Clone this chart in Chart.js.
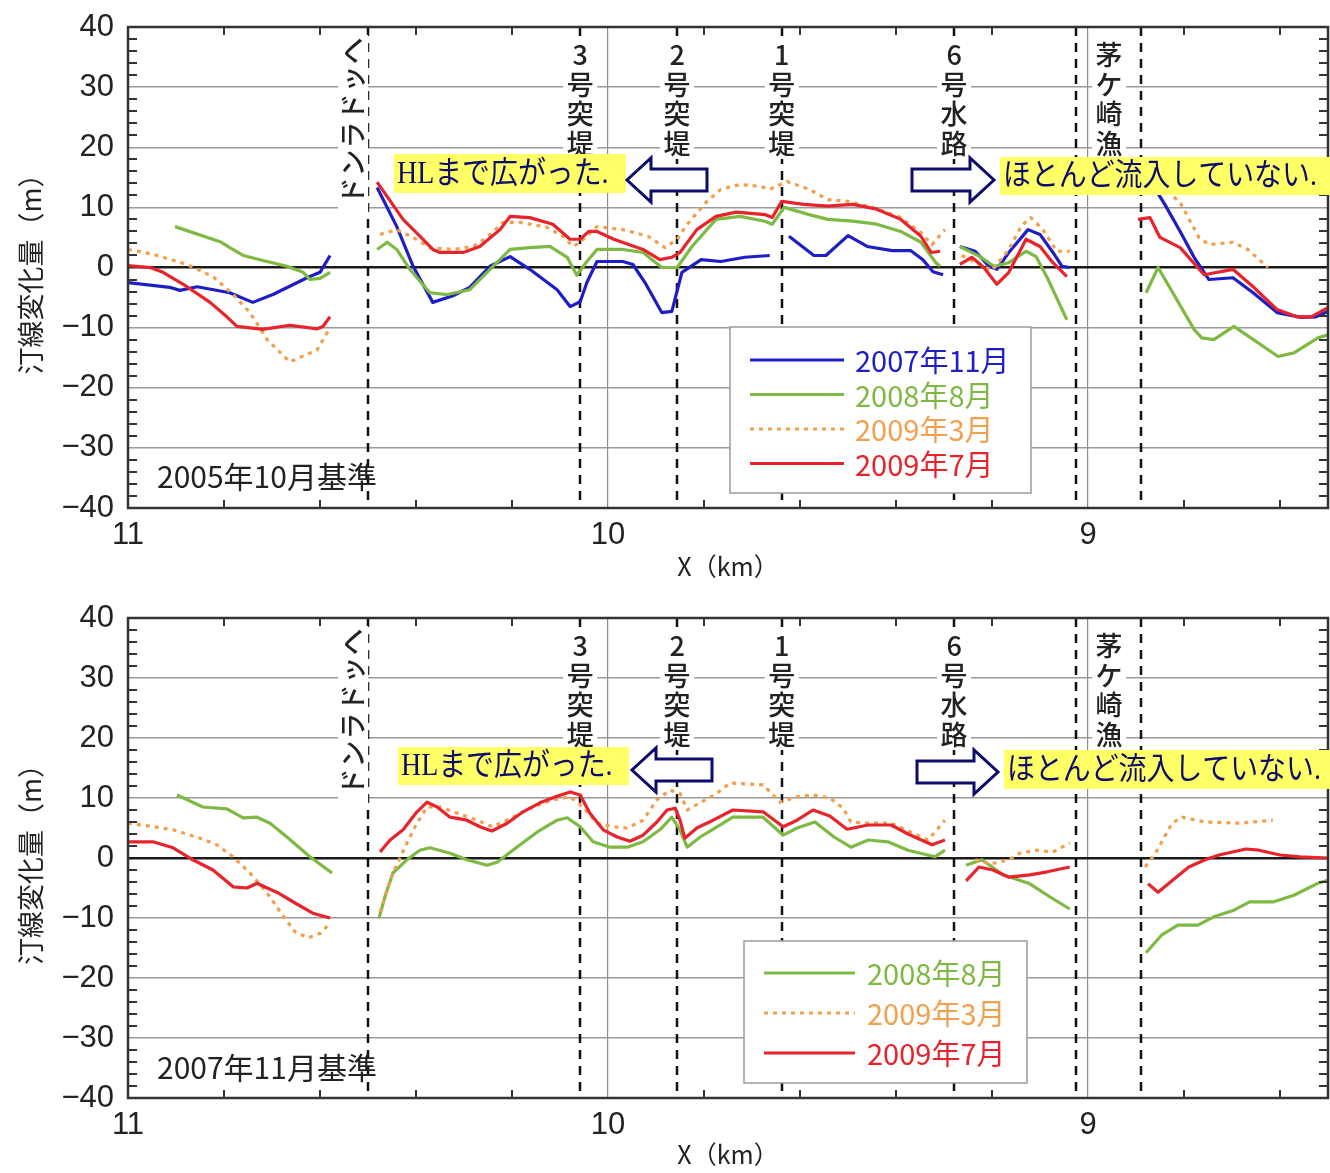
<!DOCTYPE html>
<html lang="ja">
<head>
<meta charset="utf-8">
<title>汀線変化量</title>
<script src="https://cdn.jsdelivr.net/npm/chart.js@4.4.1/dist/chart.umd.min.js"></script>
<style>
  html, body { margin: 0; padding: 0; background: #fff; }
  .panel { position: absolute; left: 0; width: 1330px; }
  #panel-top { top: 0; height: 585px; }
  #panel-bottom { top: 585px; height: 588px; }
</style>
</head>
<body>
<div class="panel" id="panel-top"><canvas id="chart-top"></canvas></div>
<div class="panel" id="panel-bottom"><canvas id="chart-bottom"></canvas></div>
<script>
/* Shoreline change along the coast, X in km (reversed), two base dates */

// ---- axes ----
const xRange = [8.5, 11];
const xLabelKm = [11, 10, 9];
const xMinorKm = [10.8, 10.6, 10.4, 10.2, 9.8, 9.6, 9.4, 9.2, 8.8, 8.6];
const yRange = [-40, 40];
const yStep = 10;
const yMinorStep = 2;

// ---- structures along the coast ----
const structureLineKm = [10.50, 10.058, 9.856, 9.638, 9.279, 9.025, 8.890];
const placeNames = ['ヘッドランド', '3号突堤', '2号突堤', '1号突堤', '6号水路', '茅ケ崎漁港'];
const placeKm = [10.531, 10.058, 9.856, 9.638, 9.279, 8.956];

const seriesLabels = ['2007年11月', '2008年8月', '2009年3月', '2009年7月'];

// ---- 2005年10月基準 : [km, m], null value = break in the line ----
const top2007Nov = [
  [11.000, -2.5], [10.913, -3.3], [10.892, -3.8], [10.856, -3.2], [10.788, -4.2], [10.740, -5.8],
  [10.698, -4.5], [10.627, -1.7], [10.600, -0.8], [10.579, 2.0],
  [10.53, null],
  [10.481, 13.3], [10.440, 6.8], [10.406, 0.2], [10.365, -5.8], [10.323, -4.7], [10.288, -3.3],
  [10.246, 0.2], [10.204, 1.8], [10.163, -0.3], [10.106, -3.7], [10.079, -6.5], [10.058, -5.7],
  [10.044, -2.5], [10.023, 1.0], [9.969, 1.0], [9.948, 0.5], [9.923, -2.5], [9.888, -7.5],
  [9.867, -7.3], [9.846, -0.8], [9.806, 1.3], [9.765, 1.0], [9.715, 1.7], [9.663, 2.0],
  [9.645, null],
  [9.623, 5.2], [9.571, 2.0], [9.546, 2.0], [9.500, 5.3], [9.460, 3.5], [9.408, 2.8], [9.369, 2.8],
  [9.344, 1.3], [9.323, -0.7], [9.302, -1.2],
  [9.28, null],
  [9.267, 3.5], [9.235, 2.7], [9.206, 0.2], [9.190, -0.3], [9.165, 2.5], [9.125, 6.3], [9.100, 5.5],
  [9.073, 2.5], [9.054, 0.2], [9.038, 0.0],
  [8.95, null],
  [8.875, 15.0], [8.840, 10.5], [8.808, 6.0], [8.779, 1.7], [8.748, -2.0], [8.698, -1.7],
  [8.656, -4.2], [8.606, -7.5], [8.556, -8.3], [8.525, -8.2], [8.500, -7.3]
];
const top2008Aug = [
  [10.902, 6.8], [10.808, 4.3], [10.788, 3.3], [10.760, 2.0], [10.725, 1.3], [10.669, 0.2],
  [10.635, -0.8], [10.621, -2.0], [10.600, -1.8], [10.579, -0.8],
  [10.53, null],
  [10.481, 3.0], [10.460, 4.2], [10.440, 3.0], [10.413, -0.3], [10.371, -4.2], [10.335, -4.5],
  [10.288, -3.7], [10.252, -0.8], [10.204, 3.0], [10.163, 3.3], [10.121, 3.5], [10.085, 1.7],
  [10.065, -1.3], [10.044, 1.0], [10.023, 3.0], [9.969, 3.0], [9.927, 2.5], [9.888, 0.0],
  [9.856, 0.0], [9.825, 3.5], [9.775, 8.0], [9.725, 8.5], [9.673, 7.7], [9.658, 7.2], [9.633, 10.0],
  [9.581, 8.8], [9.542, 8.0], [9.490, 7.7], [9.440, 7.2], [9.390, 6.0], [9.348, 4.2], [9.317, 0.8],
  [9.308, 0.2],
  [9.28, null],
  [9.267, 3.5], [9.225, 1.8], [9.196, 0.2], [9.165, 0.8], [9.129, 2.7], [9.108, 1.8], [9.083, -2.0],
  [9.044, -8.7],
  [8.95, null],
  [8.879, -4.2], [8.854, 0.0], [8.779, -10.3], [8.763, -11.7], [8.738, -12.0], [8.696, -9.8],
  [8.604, -14.8], [8.571, -14.2], [8.521, -11.7], [8.500, -11.2]
];
const top2009Mar = [
  [11.000, 3.0], [10.948, 2.2], [10.877, 0.5], [10.823, -1.5], [10.781, -4.5], [10.746, -7.5],
  [10.710, -12.0], [10.663, -15.7], [10.606, -13.7], [10.579, -10.0],
  [10.53, null],
  [10.475, 5.5], [10.440, 6.3], [10.406, 5.0], [10.371, 3.3], [10.323, 3.0], [10.281, 3.5],
  [10.252, 5.0], [10.219, 7.5], [10.183, 7.5], [10.127, 6.7], [10.094, 5.2], [10.073, 3.5],
  [10.058, 4.2], [10.023, 6.8], [9.969, 6.3], [9.917, 5.2], [9.881, 3.3], [9.856, 4.7], [9.835, 7.2],
  [9.796, 10.8], [9.765, 13.0], [9.725, 13.8], [9.683, 13.5], [9.663, 13.0], [9.627, 14.3],
  [9.581, 13.0], [9.542, 11.3], [9.500, 11.0], [9.450, 10.0], [9.390, 8.3], [9.348, 5.8],
  [9.325, 3.8], [9.298, 6.3],
  [9.28, null],
  [9.263, 2.0], [9.225, 0.5], [9.200, -0.5], [9.165, 3.0], [9.138, 7.0], [9.119, 8.3], [9.094, 6.3],
  [9.065, 2.7], [9.038, 2.7],
  [8.95, null],
  [8.871, 13.5], [8.840, 13.0], [8.808, 10.8], [8.769, 5.0], [8.748, 3.8], [8.698, 4.2],
  [8.667, 3.0], [8.625, 0.0]
];
const top2009Jul = [
  [11.000, 0.3], [10.954, 0.0], [10.927, -0.8], [10.877, -3.2], [10.829, -5.8], [10.794, -8.2],
  [10.773, -9.8], [10.719, -10.3], [10.663, -9.6], [10.606, -10.2], [10.594, -9.8], [10.579, -8.2],
  [10.53, null],
  [10.481, 14.2], [10.460, 11.8], [10.427, 8.0], [10.392, 5.2], [10.365, 3.0], [10.350, 2.5],
  [10.302, 2.5], [10.267, 3.5], [10.225, 6.3], [10.204, 8.5], [10.163, 8.3], [10.115, 7.2],
  [10.079, 4.7], [10.058, 4.7], [10.040, 6.0], [10.023, 6.0], [9.988, 4.7], [9.927, 3.0],
  [9.892, 1.3], [9.867, 1.7], [9.850, 2.5], [9.815, 6.3], [9.775, 8.5], [9.733, 9.2], [9.673, 8.8],
  [9.658, 8.3], [9.638, 11.0], [9.592, 10.5], [9.542, 10.2], [9.490, 10.5], [9.440, 9.7],
  [9.390, 8.0], [9.348, 5.2], [9.327, 2.5], [9.308, 2.7],
  [9.28, null],
  [9.267, 0.5], [9.242, 1.7], [9.217, 0.0], [9.190, -2.8], [9.165, -0.8], [9.129, 4.7], [9.100, 3.5],
  [9.073, 0.8], [9.044, -1.5],
  [8.95, null],
  [8.896, 8.0], [8.871, 8.3], [8.850, 5.0], [8.808, 3.3], [8.758, -1.2], [8.698, -0.3],
  [8.656, -3.2], [8.606, -7.0], [8.565, -8.2], [8.535, -8.2], [8.500, -6.7]
];

// ---- 2007年11月基準 ----
const bot2008Aug = [
  [10.898, 10.5], [10.844, 8.5], [10.794, 8.2], [10.760, 6.7], [10.731, 6.8], [10.704, 5.8],
  [10.669, 3.5], [10.621, 0.2], [10.575, -2.5],
  [10.53, null],
  [10.477, -10.0], [10.463, -6.0], [10.448, -2.5], [10.419, -0.3], [10.392, 1.3], [10.371, 1.7],
  [10.329, 0.8], [10.294, -0.3], [10.252, -1.2], [10.231, -0.7], [10.190, 1.8], [10.148, 4.3],
  [10.106, 6.3], [10.085, 6.7], [10.058, 5.2], [10.031, 2.7], [9.996, 1.8], [9.960, 1.8],
  [9.927, 2.7], [9.892, 4.7], [9.867, 6.8], [9.850, 4.7], [9.835, 1.8], [9.808, 3.5], [9.773, 5.2],
  [9.740, 6.8], [9.677, 6.8], [9.635, 3.8], [9.606, 5.0], [9.569, 6.0], [9.529, 3.5], [9.494, 1.8],
  [9.458, 3.0], [9.417, 2.7], [9.375, 1.3], [9.319, 0.2], [9.298, 1.3],
  [9.28, null],
  [9.254, -1.2], [9.221, -0.3], [9.177, -2.8], [9.121, -4.3], [9.079, -6.5], [9.038, -8.5],
  [8.95, null],
  [8.879, -15.8], [8.846, -12.8], [8.813, -11.2], [8.771, -11.2], [8.738, -9.8], [8.696, -8.7],
  [8.663, -7.3], [8.613, -7.3], [8.571, -6.2], [8.521, -4.2], [8.500, -3.7]
];
const bot2009Mar = [
  [11.000, 5.8], [10.954, 5.3], [10.906, 4.7], [10.850, 3.3], [10.815, 2.2], [10.781, 0.2],
  [10.746, -2.5], [10.719, -5.0], [10.704, -6.5], [10.681, -9.2], [10.652, -12.3], [10.625, -13.3],
  [10.598, -12.5], [10.579, -10.8],
  [10.53, null],
  [10.475, -9.0], [10.448, -2.5], [10.419, 2.5], [10.398, 5.8], [10.377, 8.5], [10.350, 8.5],
  [10.315, 7.5], [10.273, 6.3], [10.240, 5.2], [10.198, 6.8], [10.156, 8.5], [10.115, 9.7],
  [10.079, 10.2], [10.052, 8.5], [10.023, 5.8], [9.990, 5.2], [9.960, 5.0], [9.927, 6.3],
  [9.898, 9.7], [9.871, 11.3], [9.850, 10.8], [9.835, 8.0], [9.808, 9.2], [9.773, 10.8],
  [9.746, 12.5], [9.677, 12.2], [9.642, 9.3], [9.606, 10.2], [9.573, 10.5], [9.538, 10.0],
  [9.510, 8.3], [9.494, 6.0], [9.458, 5.8], [9.410, 5.8], [9.369, 4.3], [9.333, 3.0], [9.298, 6.3],
  [9.28, null],
  [9.235, -0.3], [9.204, -1.0], [9.165, -0.3], [9.142, 0.8], [9.108, 1.3], [9.073, 1.0], [9.038, 2.5],
  [8.95, null],
  [8.881, -1.5], [8.860, 0.7], [8.825, 5.8], [8.804, 6.8], [8.756, 6.0], [8.685, 5.8], [8.615, 6.3]
];
const bot2009Jul = [
  [11.000, 2.7], [10.948, 2.7], [10.906, 1.7], [10.865, -0.3], [10.823, -2.0], [10.781, -4.8],
  [10.752, -5.0], [10.731, -4.2], [10.710, -5.0], [10.690, -5.7], [10.652, -7.5], [10.615, -9.2],
  [10.579, -10.0],
  [10.53, null],
  [10.475, 1.0], [10.454, 3.0], [10.427, 4.7], [10.398, 7.7], [10.377, 9.3], [10.356, 8.5],
  [10.329, 6.8], [10.294, 6.3], [10.267, 5.2], [10.242, 4.5], [10.210, 5.8], [10.177, 7.7],
  [10.142, 9.2], [10.106, 10.3], [10.079, 11.0], [10.058, 10.5], [10.038, 7.5], [10.010, 4.7],
  [9.981, 3.5], [9.954, 2.8], [9.927, 3.8], [9.898, 6.0], [9.877, 8.0], [9.860, 8.3], [9.850, 6.3],
  [9.840, 3.3], [9.815, 5.0], [9.781, 6.3], [9.740, 8.0], [9.677, 7.7], [9.635, 5.2], [9.606, 6.3],
  [9.573, 8.0], [9.538, 7.0], [9.502, 4.8], [9.458, 5.5], [9.410, 5.5], [9.375, 4.0], [9.325, 2.2],
  [9.298, 3.0],
  [9.28, null],
  [9.254, -3.8], [9.227, -1.5], [9.198, -2.0], [9.165, -3.2], [9.121, -2.8], [9.085, -2.3], [9.038, -1.5],
  [8.95, null],
  [8.875, -4.3], [8.854, -5.7], [8.825, -3.8], [8.790, -1.5], [8.756, -0.3], [8.727, 0.5],
  [8.671, 1.5], [8.644, 1.3], [8.600, 0.5], [8.558, 0.2], [8.500, 0.0]
];

// ---- styling ----
const NUM_FONT = "'Liberation Sans Narrow', 'Liberation Sans', Arial, sans-serif";
const JP_FONT = "'Noto Sans CJK JP', sans-serif";
const SERIF_FONT = "'Liberation Serif', 'DejaVu Serif', 'Noto Sans CJK JP', serif";
const NAVY = '#0c0c6c';
const INK = '#222';
const COLORS = {
  nov07: '#1e1ec6',
  aug08: '#7db943',
  mar09: '#f2a04e',
  jul09: '#e8232b'
};

function toPoints(rows) {
  return rows.map(([km, v]) => ({ x: km, y: v }));
}

function makeDataset(label, rows, color, order, dotted) {
  return {
    label,
    data: toPoints(rows),
    borderColor: color,
    backgroundColor: color,
    borderWidth: 3.2,
    borderDash: dotted ? [4, 5] : [],
    borderJoinStyle: 'round',
    pointRadius: 0,
    tension: 0,
    spanGaps: false,
    fill: false,
    order
  };
}

function drawNoteBox(ctx, bx, by, w, h, text) {
  ctx.fillStyle = '#ffff66';
  ctx.fillRect(bx, by, w, h);
  ctx.save();
  ctx.translate(bx + 3, by + h / 2 + 1);
  ctx.scale(0.9, 1);
  ctx.font = '31px ' + SERIF_FONT;
  ctx.fillStyle = NAVY;
  ctx.textAlign = 'left';
  ctx.textBaseline = 'middle';
  ctx.fillText(text, 0, 0);
  ctx.restore();
}

function drawBlockArrow(ctx, tailX, tipX, cy) {
  const dir = Math.sign(tipX - tailX);
  const headLen = 24, headHalf = 22, shaftHalf = 11;
  const neck = tipX - dir * headLen;
  ctx.beginPath();
  ctx.moveTo(tailX, cy - shaftHalf);
  ctx.lineTo(neck, cy - shaftHalf);
  ctx.lineTo(neck, cy - headHalf);
  ctx.lineTo(tipX, cy);
  ctx.lineTo(neck, cy + headHalf);
  ctx.lineTo(neck, cy + shaftHalf);
  ctx.lineTo(tailX, cy + shaftHalf);
  ctx.closePath();
  ctx.fillStyle = '#fff';
  ctx.fill();
  ctx.strokeStyle = NAVY;
  ctx.lineWidth = 3;
  ctx.lineJoin = 'miter';
  ctx.stroke();
}

// dashed structure lines, place names, ticks, frame, legend and notes
const shorelineDecor = {
  id: 'shoreline',
  beforeDatasetsDraw(chart, args, o) {
    const { ctx, chartArea: a, scales: { x } } = chart;
    ctx.save();
    ctx.strokeStyle = '#111';
    ctx.lineWidth = 2.5;
    ctx.setLineDash([9, 7]);
    structureLineKm.forEach(km => {
      const px = Math.round(x.getPixelForValue(km));
      ctx.beginPath();
      ctx.moveTo(px, a.top);
      ctx.lineTo(px, a.bottom);
      ctx.stroke();
    });
    ctx.setLineDash([]);

    ctx.font = '500 27px ' + JP_FONT;
    ctx.textAlign = 'center';
    ctx.textBaseline = 'middle';
    placeNames.forEach((name, i) => {
      const cx = x.getPixelForValue(placeKm[i]);
      const chars = Array.from(name);
      if (i === 0) {
        // headland name: stacked downward, each glyph laid on its side
        ctx.fillStyle = '#fff';
        ctx.fillRect(cx - 15, a.top + 8, 30, chars.length * 28 + 10);
        ctx.fillStyle = INK;
        chars.forEach((ch, k) => {
          ctx.save();
          ctx.translate(cx, a.top + 24 + k * 28);
          ctx.rotate(-Math.PI / 2);
          ctx.fillText(ch, 0, 0);
          ctx.restore();
        });
        return;
      }
      ctx.fillStyle = '#fff';
      ctx.fillRect(cx - 17, a.top + 12, 34, chars.length * 29.5 + 2);
      ctx.fillStyle = INK;
      chars.forEach((ch, k) => ctx.fillText(ch, cx, a.top + 28 + k * 29.5));
    });
    ctx.restore();
  },
  afterDatasetsDraw(chart, args, o) {
    const { ctx, chartArea: a, scales: { x, y } } = chart;
    ctx.save();

    // minor ticks on all four edges
    ctx.strokeStyle = '#333';
    ctx.lineWidth = 2;
    ctx.beginPath();
    for (let v = yRange[0] + yMinorStep; v < yRange[1]; v += yMinorStep) {
      if (v % yStep === 0) continue;
      const py = Math.round(y.getPixelForValue(v));
      ctx.moveTo(a.left, py); ctx.lineTo(a.left + 9, py);
      ctx.moveTo(a.right - 9, py); ctx.lineTo(a.right, py);
    }
    xMinorKm.forEach(km => {
      const px = Math.round(x.getPixelForValue(km));
      ctx.moveTo(px, a.top); ctx.lineTo(px, a.top + 8);
      ctx.moveTo(px, a.bottom - 8); ctx.lineTo(px, a.bottom);
    });
    ctx.stroke();

    ctx.lineWidth = 2.5;
    ctx.strokeRect(a.left, a.top, a.right - a.left, a.bottom - a.top);

    // legend box
    const L = o.legend;
    const bx = a.left + L.left, by = a.top + L.top;
    ctx.fillStyle = '#fff';
    ctx.fillRect(bx, by, L.width, L.height);
    ctx.strokeStyle = '#9a9a9a';
    ctx.lineWidth = 1.5;
    ctx.strokeRect(bx, by, L.width, L.height);
    ctx.font = '29px ' + JP_FONT;
    ctx.textAlign = 'left';
    ctx.textBaseline = 'middle';
    chart.data.datasets.forEach((ds, i) => {
      const ry = by + L.firstRow + i * L.rowGap;
      ctx.strokeStyle = ds.borderColor;
      ctx.lineWidth = 3;
      ctx.setLineDash(ds.borderDash);
      ctx.beginPath();
      ctx.moveTo(bx + L.lineFrom, ry);
      ctx.lineTo(bx + L.lineTo, ry);
      ctx.stroke();
      ctx.setLineDash([]);
      ctx.fillStyle = ds.borderColor;
      ctx.fillText(ds.label, bx + L.textX, ry + 1);
    });

    // notes with block arrows
    const N = o.notes;
    drawNoteBox(ctx, a.left + N.leftBox[0], a.top + N.leftBox[1], N.leftBox[2], N.leftBox[3], 'HLまで広がった.');
    drawBlockArrow(ctx, a.left + N.leftArrow[0], a.left + N.leftArrow[1], a.top + N.leftArrow[2]);
    drawBlockArrow(ctx, a.left + N.rightArrow[0], a.left + N.rightArrow[1], a.top + N.rightArrow[2]);
    drawNoteBox(ctx, a.left + N.rightBox[0], a.top + N.rightBox[1], N.rightBox[2], N.rightBox[3], 'ほとんど流入していない.');

    // base date
    ctx.font = '30px ' + JP_FONT;
    ctx.fillStyle = INK;
    ctx.textAlign = 'left';
    ctx.textBaseline = 'middle';
    ctx.fillText(o.baseLabel, a.left + 29, a.top + 450);
    ctx.restore();
  }
};

function buildChart(canvasId, datasets, padTop, axisHeight, decor) {
  return new Chart(document.getElementById(canvasId), {
    type: 'line',
    data: { datasets },
    options: {
      responsive: true,
      maintainAspectRatio: false,
      animation: false,
      events: [],
      layout: { padding: { top: padTop, right: 2, left: 0, bottom: 0 } },
      plugins: {
        legend: { display: false },
        tooltip: { enabled: false },
        shoreline: decor
      },
      scales: {
        x: {
          type: 'linear',
          min: xRange[0],
          max: xRange[1],
          reverse: true,
          afterBuildTicks: (s) => { s.ticks = xLabelKm.map(v => ({ value: v })); },
          afterFit: (s) => {
            s.height = axisHeight;
            s.paddingLeft = 0;
            s.paddingRight = 0;
          },
          ticks: {
            color: INK,
            font: { family: NUM_FONT, size: 31 },
            padding: 9,
            maxRotation: 0,
            autoSkip: false,
            callback: (v) => String(v)
          },
          grid: {
            drawTicks: false,
            color: (c) => (c.tick && c.tick.value === 11 ? 'rgba(0,0,0,0)' : '#8c8c8c'),
            lineWidth: 1.2
          },
          border: { display: false },
          title: {
            display: true,
            text: 'X（km）',
            color: INK,
            font: { family: JP_FONT, size: 25 },
            padding: { top: 0, bottom: 4 }
          }
        },
        y: {
          min: yRange[0],
          max: yRange[1],
          afterFit: (s) => {
            s.width = 128;
            s.paddingTop = 0;
            s.paddingBottom = 0;
          },
          ticks: {
            stepSize: yStep,
            color: INK,
            font: { family: NUM_FONT, size: 31 },
            padding: 14,
            callback: (v) => (v < 0 ? '−' + Math.abs(v) : String(v))
          },
          grid: {
            drawTicks: false,
            color: (c) => (c.tick && c.tick.value === 0 ? '#1a1a1a' : '#9a9a9a'),
            lineWidth: (c) => (c.tick && c.tick.value === 0 ? 2.5 : 1.5)
          },
          border: { display: false },
          title: {
            display: true,
            text: '汀線変化量（m）',
            color: INK,
            font: { family: JP_FONT, size: 27 },
            padding: { top: 15, bottom: 0 }
          }
        }
      }
    },
    plugins: [shorelineDecor]
  });
}

buildChart('chart-top', [
  makeDataset(seriesLabels[0], top2007Nov, COLORS.nov07, 4, false),
  makeDataset(seriesLabels[1], top2008Aug, COLORS.aug08, 3, false),
  makeDataset(seriesLabels[2], top2009Mar, COLORS.mar09, 2, true),
  makeDataset(seriesLabels[3], top2009Jul, COLORS.jul09, 1, false)
], 27, 77, {
  baseLabel: '2005年10月基準',
  legend: { left: 602, top: 300, width: 301, height: 166, firstRow: 33, rowGap: 34.5, lineFrom: 20, lineTo: 114, textX: 125 },
  notes: {
    leftBox: [266, 127, 232, 39],
    leftArrow: [579, 499, 153],
    rightArrow: [784, 866, 153],
    rightBox: [872, 130, 330, 38]
  }
});

buildChart('chart-bottom', [
  makeDataset(seriesLabels[1], bot2008Aug, COLORS.aug08, 3, false),
  makeDataset(seriesLabels[2], bot2009Mar, COLORS.mar09, 2, true),
  makeDataset(seriesLabels[3], bot2009Jul, COLORS.jul09, 1, false)
], 33, 75, {
  baseLabel: '2007年11月基準',
  legend: { left: 616, top: 323, width: 283, height: 142, firstRow: 32, rowGap: 40, lineFrom: 20, lineTo: 111, textX: 123 },
  notes: {
    leftBox: [270, 129, 231, 38],
    leftArrow: [584, 504, 152],
    rightArrow: [789, 870, 154],
    rightBox: [876, 132, 330, 39]
  }
});
</script>
</body>
</html>
